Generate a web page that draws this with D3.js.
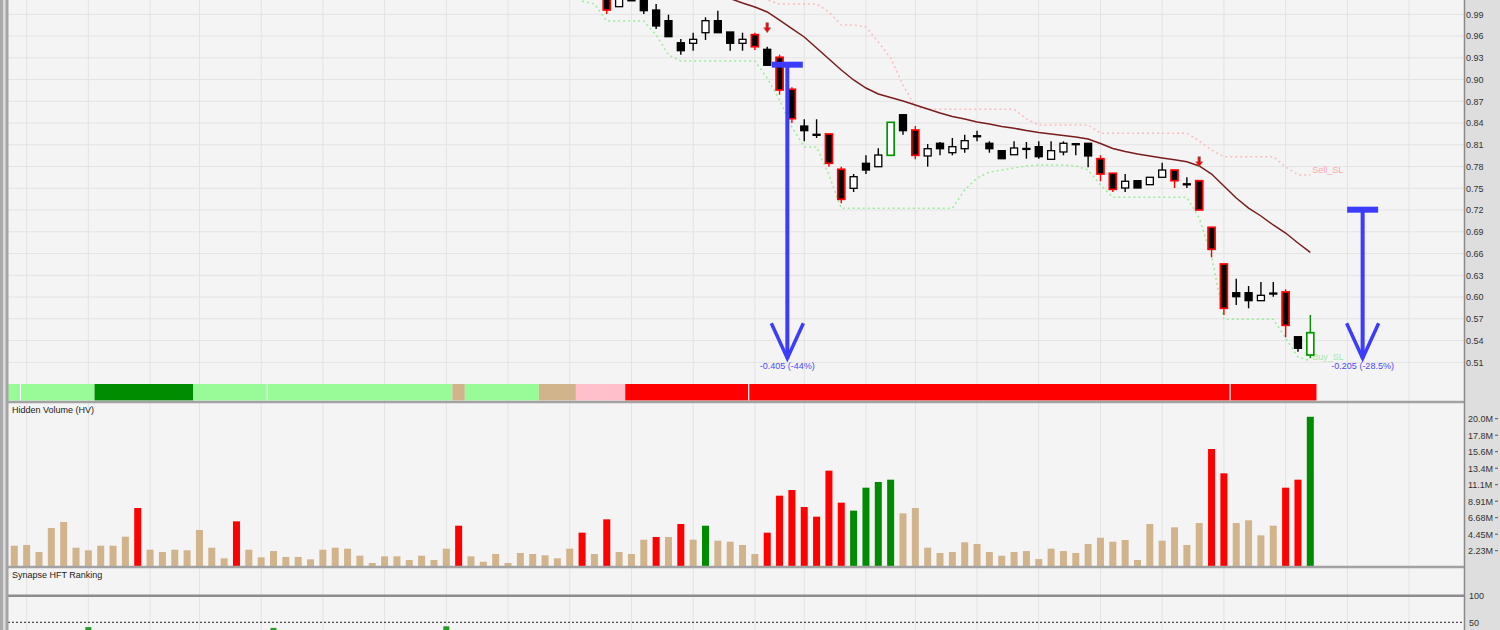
<!DOCTYPE html>
<html>
<head>
<meta charset="utf-8">
<script src="https://cdn.jsdelivr.net/npm/d3@7"></script>
<style>
  body { margin: 0; background: #f4f4f4; }
  text { font-family: "Liberation Sans", Arial, sans-serif; font-size: 9px; }
</style>
</head>
<body>
<div id="chart"></div>
<script>
// ---- data ----
// candles start at bar 46, earlier bars sit above the visible price range
var candleStart = 46;
var opens = [1.030, 1.028, 1.022, 1.0005, 1.010, 1.014, 0.9959, 0.9812, 0.9508, 0.9500,
             0.9646, 0.9812, 0.9656, 0.9500, 0.9619, 0.9417, 0.9307, 0.8866, 0.8359, 0.8245,
             0.8249, 0.7762, 0.7500, 0.7845, 0.7798, 0.7955, 0.8515, 0.8304, 0.7946, 0.8121,
             0.7991, 0.8046, 0.8225, 0.8121, 0.8019, 0.7963, 0.8050, 0.8074, 0.7900, 0.8001,
             0.8115, 0.8121, 0.7908, 0.7707, 0.7504, 0.7605, 0.7550, 0.7652, 0.7752, 0.7562,
             0.7605, 0.6962, 0.6456, 0.6060, 0.6060, 0.5950, 0.6055, 0.6070, 0.5453, 0.5200];
var highs = [1.035, 1.036, 1.026, 1.016, 1.020, 1.018, 1.0042, 0.9895, 0.9559, 0.9646,
             0.9859, 0.9950, 0.9656, 0.9646, 0.9646, 0.9453, 0.9343, 0.8893, 0.8452, 0.8452,
             0.8249, 0.7798, 0.7697, 0.7955, 0.8052, 0.8410, 0.8515, 0.8359, 0.8111, 0.8139,
             0.8194, 0.8239, 0.8295, 0.8148, 0.8019, 0.8148, 0.8139, 0.8148, 0.8148, 0.8148,
             0.8115, 0.8121, 0.7955, 0.7707, 0.7697, 0.7605, 0.7652, 0.7853, 0.7752, 0.7652,
             0.7605, 0.6962, 0.6456, 0.6253, 0.6152, 0.6208, 0.6208, 0.6107, 0.5453, 0.5752];
var lows = [1.016, 1.015, 0.9904, 1.0005, 1.0085, 0.9904, 0.9697, 0.9591, 0.9343, 0.9398,
            0.9546, 0.9646, 0.9398, 0.9398, 0.9408, 0.9197, 0.8791, 0.8401, 0.8148, 0.8194,
            0.7798, 0.7293, 0.7449, 0.7697, 0.7798, 0.7955, 0.8239, 0.7900, 0.7798, 0.7955,
            0.7955, 0.7991, 0.8148, 0.7991, 0.7908, 0.7963, 0.7908, 0.7908, 0.7900, 0.7955,
            0.7955, 0.7790, 0.7597, 0.7449, 0.7449, 0.7504, 0.7550, 0.7652, 0.7504, 0.7504,
            0.7201, 0.6548, 0.5752, 0.5890, 0.5845, 0.5950, 0.6005, 0.5445, 0.5246, 0.5155];
var closes = [1.020, 1.022, 0.9959, 1.013, 1.0095, 0.9950, 0.9739, 0.9591, 0.9398, 0.9555,
              0.9812, 0.9646, 0.9500, 0.9555, 0.9453, 0.9197, 0.8856, 0.8460, 0.8295, 0.8236,
              0.7845, 0.7348, 0.7660, 0.7752, 0.7959, 0.8410, 0.8295, 0.7955, 0.8046, 0.8046,
              0.8074, 0.8157, 0.8218, 0.8046, 0.7908, 0.8056, 0.8042, 0.7936, 0.8019, 0.8121,
              0.8108, 0.7946, 0.7697, 0.7486, 0.7597, 0.7504, 0.7652, 0.7752, 0.7605, 0.7556,
              0.7201, 0.6659, 0.5845, 0.6005, 0.5950, 0.6024, 0.6048, 0.5610, 0.5293, 0.5508];
var redEdge = [48, 60, 62, 63, 66, 67, 73, 88, 89, 94, 96, 97, 98, 103];
var greenEdge = [71, 105];
var sellSignals = [61, 96];

// moving average, bars 57..105
var smaStart = 57;
var sma = [1.0166, 1.0117, 1.0056, 1.0001, 0.9932, 0.9821, 0.9704, 0.9587, 0.9435, 0.9283,
           0.9132, 0.8994, 0.8883, 0.8801, 0.8752, 0.8704, 0.8649, 0.8594, 0.8539, 0.8490,
           0.8456, 0.8414, 0.8387, 0.8352, 0.8328, 0.8297, 0.8270, 0.8249, 0.8228, 0.8208,
           0.8180, 0.8118, 0.8049, 0.8008, 0.7973, 0.7945, 0.7918, 0.7893, 0.7867, 0.7808,
           0.7697, 0.7532, 0.7366, 0.7228, 0.7118, 0.6994, 0.6883, 0.6746, 0.6615];

// trailing stops
var buyStart = 46;
var buySL = [1.0083, 1.0042, 0.9808, 0.9808, 0.9808, 0.9808, 0.9615, 0.9339, 0.9256, 0.9256,
             0.9256, 0.9256, 0.9256, 0.9256, 0.9256, 0.9021, 0.8718, 0.8345, 0.8070, 0.8070,
             0.7683, 0.7224, 0.7224, 0.7224, 0.7224, 0.7224, 0.7224, 0.7224, 0.7224, 0.7224,
             0.7224, 0.7477, 0.7642, 0.7725, 0.7752, 0.7780, 0.7808, 0.7821, 0.7821, 0.7821,
             0.7808, 0.7752, 0.7545, 0.7376, 0.7376, 0.7376, 0.7376, 0.7376, 0.7376, 0.7376,
             0.7090, 0.6566, 0.5693, 0.5693, 0.5693, 0.5693, 0.5693, 0.5435, 0.5173, 0.5122];
var sellStart = 60;
var sellSL = [1.018, 1.0097, 1.0042, 1.0042, 1.0042, 1.0042, 0.9932, 0.9752, 0.9752, 0.9725,
              0.9518, 0.9297, 0.8925, 0.8621, 0.8590, 0.8590, 0.8590, 0.8590, 0.8590, 0.8590,
              0.8590, 0.8590, 0.8456, 0.8373, 0.8373, 0.8373, 0.8373, 0.8373, 0.8259, 0.8259,
              0.8259, 0.8259, 0.8259, 0.8259, 0.8259, 0.8259, 0.8152, 0.8028, 0.7936, 0.7936,
              0.7936, 0.7936, 0.7936, 0.7798, 0.7683, 0.7683];

// measured moves (blue arrows)
var moveAt = [62.63, 109.24];
var moveFrom = [0.9205, 0.7205];
var moveTo = [0.5155, 0.5155];
var moveLabels = ['-0.405 (-44%)', '-0.205 (-28.5%)'];

// trend band runs
var bandFrom = [0, 7, 15, 36, 37, 43, 46, 50];
var bandTo = [6, 14, 35, 36, 42, 45, 49, 105];
var bandColors = ['#98fb98', '#008c00', '#98fb98', '#d2b48c', '#98fb98', '#d2b48c', '#ffc0cb', '#ff0000'];
var bandBreaks = [1, 21, 60, 99];

// hidden volume (millions), bars 0..105
var volume = [2.90, 3.00, 2.05, 5.29, 6.10, 2.63, 2.28, 2.90, 2.90, 4.12,
              7.99, 2.36, 2.05, 2.36, 2.28, 5.02, 2.63, 1.20, 6.19, 2.36,
              1.33, 2.18, 1.38, 1.38, 1.06, 2.36, 2.63, 2.50, 1.55, 0.57,
              1.47, 1.47, 0.97, 1.55, 0.97, 2.50, 5.60, 1.47, 0.74, 1.78,
              0.57, 1.92, 1.78, 1.60, 1.20, 2.50, 4.66, 1.78, 6.46, 2.05,
              1.78, 3.71, 4.08, 4.08, 5.83, 3.71, 5.60, 3.58, 3.44, 3.00,
              1.78, 4.66, 9.65, 10.42, 8.12, 6.82, 13.03, 8.71, 7.63, 10.73,
              11.50, 11.81, 7.27, 7.99, 2.63, 1.92, 2.05, 3.36, 3.13, 2.05,
              1.55, 2.05, 2.18, 1.10, 2.50, 2.18, 1.92, 3.13, 3.98, 3.44,
              3.67, 0.97, 5.83, 3.58, 5.38, 3.00, 5.96, 15.95, 12.67, 5.96,
              6.33, 4.30, 5.60, 10.73, 11.81, 20.30];
var volRed = [10, 18, 36, 46, 48, 52, 54, 61, 62, 63, 64, 65, 66, 67, 97, 98, 103, 104];
var volGreen = [56, 68, 69, 70, 71, 105];

// HFT ranking bars that reach into view
var hftAt = [6, 21, 35];
var hftRank = [41, 39.5, 42.5];

// axes
var priceTicks = [0.51, 0.54, 0.57, 0.60, 0.63, 0.66, 0.69, 0.72, 0.75, 0.78, 0.81, 0.84, 0.87, 0.90, 0.93, 0.96, 0.99];
var volTicks = [2.227, 4.453, 6.68, 8.907, 11.13, 13.36, 15.59, 17.81, 20.04];
var volTickLabels = ['2.23M', '4.45M', '6.68M', '8.91M', '11.1M', '13.4M', '15.6M', '17.8M', '20.0M'];
var hftTicks = [50, 100];
var weekLines = [1, 6, 11, 15, 20, 25, 30, 35, 40, 45, 50, 55, 60, 64, 69, 73, 78, 83, 88, 93, 98, 103, 108, 113];

// ---- layout ----
var width = 1500, height = 630;
var plotL = 8, plotR = 1464;
var priceBottom = 401, volTop = 403, volBottom = 567;

var svg = d3.select('#chart')
            .append('svg')
            .attr('width', width)
            .attr('height', height);

svg.append('rect').attr('width', width).attr('height', height).attr('fill', '#f4f4f4');

var x = d3.scaleLinear().domain([0, 105]).range([14.3, 1310.3]);
var slot = x(1) - x(0);
var yP = d3.scaleLinear().domain([0.51, 0.99]).range([362.3, 14.3]);
var yV = d3.scaleLinear().domain([0, 20]).range([567.2, 419]);
var yH = d3.scaleLinear().domain([50, 100]).range([622.3, 595.7]);

svg.append('clipPath').attr('id', 'price-clip')
   .append('rect').attr('x', plotL).attr('y', 0).attr('width', plotR - plotL).attr('height', priceBottom);

// grid
var grid = svg.append('g');
grid.selectAll('.vgrid')
    .data(weekLines)
    .enter().append('line')
    .attr('x1', function(d) { return x(d); })
    .attr('x2', function(d) { return x(d); })
    .attr('y1', 0).attr('y2', height)
    .attr('stroke', '#e3e3e3');

grid.selectAll('.hgrid')
    .data(priceTicks)
    .enter().append('line')
    .attr('x1', plotL).attr('x2', plotR)
    .attr('y1', function(d) { return yP(d); })
    .attr('y2', function(d) { return yP(d); })
    .attr('stroke', '#e3e3e3');

// trend band
var band = svg.append('g');
band.selectAll('rect')
    .data(bandFrom)
    .enter().append('rect')
    .attr('x', function(d) { return x(d) - slot / 2; })
    .attr('width', function(d, k) { return x(bandTo[k]) - x(d) + slot; })
    .attr('y', 384).attr('height', 16.5)
    .attr('fill', function(d, k) { return bandColors[k]; });
band.selectAll('line')
    .data(bandBreaks)
    .enter().append('line')
    .attr('x1', function(d) { return x(d) - slot / 2; })
    .attr('x2', function(d) { return x(d) - slot / 2; })
    .attr('y1', 384).attr('y2', 400.5)
    .attr('stroke', '#ffffff').attr('stroke-width', 1.2);

// price panel content
var price = svg.append('g').attr('clip-path', 'url(#price-clip)');

var line = d3.line()
             .x(function(d) { return x(d[0]); })
             .y(function(d) { return yP(d[1]); });

price.append('path')
     .attr('d', line(buySL.map(function(v, k) { return [buyStart + k, v]; })))
     .attr('fill', 'none').attr('stroke', '#99ee99')
     .attr('stroke-width', 1.5).attr('stroke-dasharray', '2,3');

price.append('path')
     .attr('d', line(sellSL.map(function(v, k) { return [sellStart + k, v]; })))
     .attr('fill', 'none').attr('stroke', '#ffbcbc')
     .attr('stroke-width', 1.5).attr('stroke-dasharray', '2,3');

price.append('path')
     .attr('d', line(sma.map(function(v, k) { return [smaStart + k, v]; })))
     .attr('fill', 'none').attr('stroke', '#7a1c1c')
     .attr('stroke-width', 1.5);

price.append('text').attr('x', x(105) + 2).attr('y', yP(sellSL[sellSL.length - 1]) - 2)
     .attr('fill', '#ffaaaa').text('Sell_SL');
price.append('text').attr('x', x(105) + 2).attr('y', yP(buySL[buySL.length - 1]) - 1)
     .attr('fill', '#a8e8a8').text('Buy_SL');

var candles = opens.map(function(o, k) {
  var i = candleStart + k;
  var edge = '#000000';
  if (redEdge.indexOf(i) >= 0) edge = '#ff0000';
  if (greenEdge.indexOf(i) >= 0) edge = '#009900';
  return {i: i, o: o, h: highs[k], l: lows[k], c: closes[k], edge: edge};
});

var cg = price.selectAll('.candle')
              .data(candles)
              .enter().append('g');

cg.append('line')
  .attr('x1', function(d) { return x(d.i); })
  .attr('x2', function(d) { return x(d.i); })
  .attr('y1', function(d) { return yP(d.h); })
  .attr('y2', function(d) { return yP(d.l); })
  .attr('stroke', function(d) { return d.edge; })
  .attr('stroke-width', 1.4);

cg.append('rect')
  .attr('x', function(d) { return x(d.i) - 3.5; })
  .attr('width', 7)
  .attr('y', function(d) { return yP(Math.max(d.o, d.c)); })
  .attr('height', function(d) { return Math.max(1, Math.abs(yP(d.o) - yP(d.c))); })
  .attr('fill', function(d) { return d.c > d.o ? '#ffffff' : '#000000'; })
  .attr('stroke', function(d) { return d.edge; })
  .attr('stroke-width', function(d) { return d.edge === '#000000' ? 1.3 : 1.7; });

// sell signal arrows
price.selectAll('.sig')
     .data(sellSignals)
     .enter().append('path')
     .attr('d', function(i) {
        var cx = x(i), tip = yP(highs[i - candleStart]) - 14;
        return 'M' + (cx - 1.3) + ',' + (tip - 10) + 'H' + (cx + 1.3) + 'V' + (tip - 5) +
               'H' + (cx + 3.5) + 'L' + cx + ',' + tip + 'L' + (cx - 3.5) + ',' + (tip - 5) +
               'H' + (cx - 1.3) + 'Z';
     })
     .attr('fill', '#ff0000').attr('stroke', '#777').attr('stroke-width', 0.6);

// measured move arrows
var moves = price.selectAll('.move')
                 .data(moveAt)
                 .enter().append('g');
moves.append('rect')
     .attr('x', function(d) { return x(d) - 15.5; })
     .attr('y', function(d, k) { return yP(moveFrom[k]) - 3; })
     .attr('width', 31).attr('height', 6)
     .attr('fill', '#3c3cff');
moves.append('line')
     .attr('x1', function(d) { return x(d); })
     .attr('x2', function(d) { return x(d); })
     .attr('y1', function(d, k) { return yP(moveFrom[k]); })
     .attr('y2', function(d, k) { return yP(moveTo[k]); })
     .attr('stroke', '#3c3cff').attr('stroke-width', 4);
moves.append('path')
     .attr('d', function(d, k) {
        var cx = x(d), tip = yP(moveTo[k]);
        return 'M' + (cx - 16) + ',' + (tip - 35) + 'L' + cx + ',' + tip + 'L' + (cx + 16) + ',' + (tip - 35);
     })
     .attr('fill', 'none').attr('stroke', '#3c3cff').attr('stroke-width', 3.5);
moves.append('text')
     .attr('x', function(d) { return x(d); })
     .attr('y', function(d, k) { return yP(moveTo[k]) + 11; })
     .attr('text-anchor', 'middle')
     .attr('fill', '#4a4aff')
     .text(function(d, k) { return moveLabels[k]; });

// volume bars
svg.append('g').selectAll('rect')
   .data(volume)
   .enter().append('rect')
   .attr('x', function(d, i) { return x(i) - 3.5; })
   .attr('width', 7)
   .attr('y', function(d) { return yV(d); })
   .attr('height', function(d) { return yV(0) - yV(d); })
   .attr('fill', function(d, i) {
      if (volRed.indexOf(i) >= 0) return '#ff0000';
      if (volGreen.indexOf(i) >= 0) return '#008c00';
      return '#d2b48c';
   });

// HFT ranking
svg.append('g').selectAll('rect')
   .data(hftAt)
   .enter().append('rect')
   .attr('x', function(d) { return x(d) - 3; })
   .attr('width', 6)
   .attr('y', function(d, k) { return yH(hftRank[k]); })
   .attr('height', 20)
   .attr('fill', '#2a9a2a');

svg.append('line').attr('x1', plotL).attr('x2', plotR)
   .attr('y1', yH(50)).attr('y2', yH(50))
   .attr('stroke', '#222').attr('stroke-dasharray', '2,2');
svg.append('line').attr('x1', plotL).attr('x2', plotR)
   .attr('y1', yH(100)).attr('y2', yH(100))
   .attr('stroke', '#8c8c8c').attr('stroke-width', 2.5);

// panel separators
[402, volBottom].forEach(function(yy) {
  svg.append('line').attr('x1', plotL).attr('x2', plotR)
     .attr('y1', yy).attr('y2', yy)
     .attr('stroke', '#a2a2a2').attr('stroke-width', 2.5);
});

// panel titles
svg.append('text').attr('x', 12).attr('y', 412.5).attr('fill', '#222').text('Hidden Volume (HV)');
svg.append('text').attr('x', 12).attr('y', 578).attr('fill', '#222').text('Synapse HFT Ranking');

// left frame
svg.append('rect').attr('x', 0).attr('y', 0).attr('width', 3).attr('height', height).attr('fill', '#a9a9a9');
svg.append('rect').attr('x', 3).attr('y', 0).attr('width', 2.5).attr('height', height).attr('fill', '#dadada');
svg.append('rect').attr('x', 5.5).attr('y', 0).attr('width', 3).attr('height', height).attr('fill', '#a4a4a4');

// right axis panel
svg.append('rect').attr('x', plotR).attr('y', 0).attr('width', width - plotR).attr('height', height)
   .attr('fill', '#dedede');
svg.append('line').attr('x1', plotR + 0.5).attr('x2', plotR + 0.5).attr('y1', 0).attr('y2', height)
   .attr('stroke', '#8a8a8a').attr('stroke-width', 1.5);

var priceAxis = d3.axisRight(yP)
                  .tickValues(priceTicks)
                  .tickSize(0)
                  .tickPadding(2)
                  .tickFormat(d3.format('.2f'));
var volAxis = d3.axisRight(yV)
                .tickValues(volTicks)
                .tickSize(0)
                .tickPadding(4)
                .tickFormat(function(d, k) { return volTickLabels[k]; });
var hftAxis = d3.axisRight(yH)
                .tickValues(hftTicks)
                .tickSize(0)
                .tickPadding(5);

[[priceAxis, 'price-axis'], [volAxis, 'vol-axis'], [hftAxis, 'hft-axis']].forEach(function(a) {
  var g = svg.append('g')
             .attr('id', a[1])
             .attr('transform', 'translate(' + plotR + ',0)')
             .call(a[0]);
  g.select('.domain').remove();
  g.selectAll('text')
   .attr('fill', '#333')
   .style('font-size', '9px')
   .style('font-family', '"Liberation Sans", Arial, sans-serif');
});

// small ticks right of the volume labels
svg.append('g').selectAll('line')
   .data(volTicks)
   .enter().append('line')
   .attr('x1', 1495).attr('x2', 1498)
   .attr('y1', function(d) { return yV(d); })
   .attr('y2', function(d) { return yV(d); })
   .attr('stroke', '#555');
</script>
</body>
</html>
